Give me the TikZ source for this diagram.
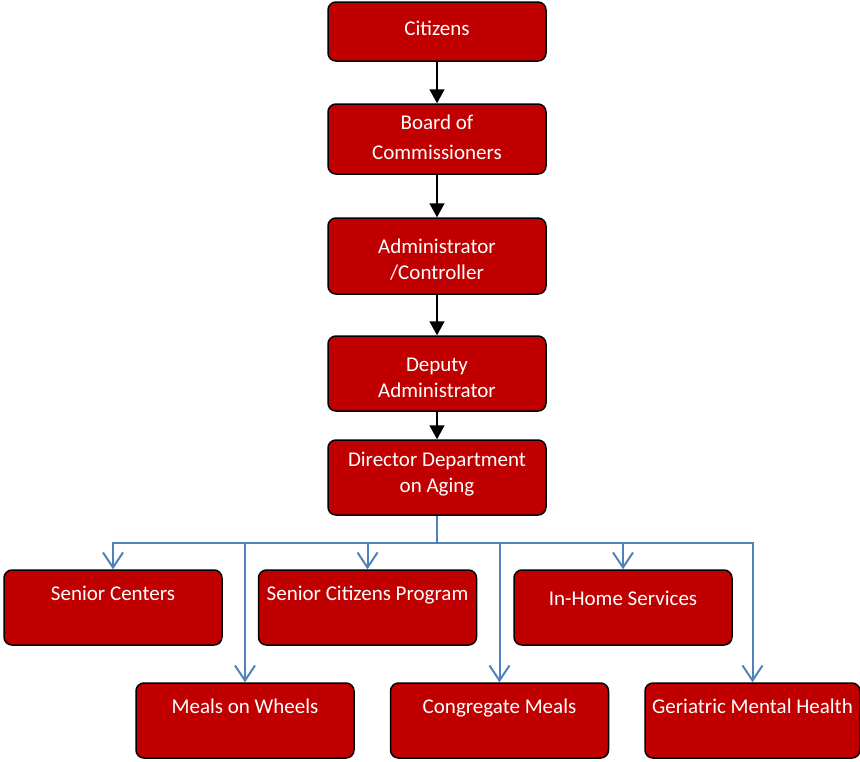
\documentclass[tikz,border=0pt]{standalone}
\usepackage{fontspec}
\setmainfont{Carlito}
\usetikzlibrary{arrows.meta}
\definecolor{boxred}{HTML}{C00000}
\definecolor{linkblue}{HTML}{4F81BD}
\begin{document}
\begin{tikzpicture}[x=1pt,y=-1pt,
  box/.style={draw=black, line width=1.5pt, fill=boxred, rounded corners=8pt,
    text=white, font=\fontsize{21}{26}\selectfont, minimum width=218pt, inner sep=0pt},
  midbox/.style 2 args={box, align=center, text height=#1, text depth=#2},
  lowbox/.style={box, minimum height=75pt, text height=#1, text depth=75pt-#1},
  blackarrow/.style={draw=black, line width=1.5pt, -{Triangle[width=15pt,length=14pt]}},
  bluearrow/.style={draw=linkblue, line width=2pt, -{Straight Barb[width=20pt,length=15pt]}}]
\useasboundingbox (0,0) rectangle (860,761);
\node[midbox={20pt}{13pt}, minimum height=59pt] (cit) at (437,31.5) {Citizens};
\node[midbox={50pt}{10pt}, minimum height=70pt] (board) at (437,139) {Board of\\[4pt]Commissioners};
\node[midbox={50pt}{4pt}, minimum height=76pt] (adm) at (437,256) {Administrator\\/Controller};
\node[midbox={50pt}{3pt}, minimum height=75pt] (dep) at (437,373.5) {Deputy\\Administrator};
\node[midbox={40pt}{11pt}, minimum height=75pt] (dir) at (437,477.5) {Director Department\\on Aging};
\node[lowbox=30pt] (sc) at (113,607.5) {Senior Centers};
\node[lowbox=30pt] (scp) at (367.5,607.5) {Senior Citizens Program};
\node[lowbox=35pt] (ih) at (623,607.5) {In-Home Services};
\node[lowbox=30pt] (mw) at (245,720.5) {Meals on Wheels};
\node[lowbox=30pt] (cm) at (499.5,720.5) {Congregate Meals};
\node[lowbox=30pt, minimum width=215pt] (gm) at (752.5,720.5) {Geriatric Mental Health};
\draw[blackarrow] (cit) -- (board);
\draw[blackarrow] (board) -- (adm);
\draw[blackarrow] (adm) -- (dep);
\draw[blackarrow] (dep) -- (dir);
\coordinate (bus) at (437,543);
\foreach \n in {sc,scp,ih,mw,cm,gm}
  \draw[bluearrow] (dir.south) -- (bus) -| (\n.north);
\end{tikzpicture}
\end{document}
